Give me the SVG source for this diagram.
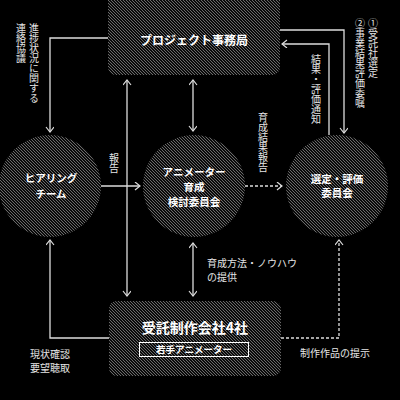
<svg xmlns="http://www.w3.org/2000/svg" width="400" height="400" viewBox="0 0 400 400">
<defs>
<pattern id="hatch" width="3" height="3" patternUnits="userSpaceOnUse">
<rect width="3" height="3" fill="#0a0a0a"/>
<rect x="0" y="0" width="1" height="1" fill="#6a6a6a"/>
<rect x="1" y="1" width="1" height="1" fill="#6a6a6a"/>
<rect x="2" y="2" width="1" height="1" fill="#6a6a6a"/>
</pattern>
<marker id="arr" markerUnits="userSpaceOnUse" markerWidth="10" markerHeight="10" refX="6" refY="4" orient="auto-start-reverse">
<path d="M1,0 L6,4 L1,8" fill="none" stroke="#ddd" stroke-width="1.2"/>
</marker>
<style>
.node{fill:url(#hatch);}
.t{font-family:"Noto Sans CJK JP","Noto Sans",sans-serif;fill:#fff;font-weight:bold;text-anchor:middle;}
.lab{font-family:"Noto Sans CJK JP","Noto Sans",sans-serif;fill:#e6e6e6;font-size:10px;}
.v{writing-mode:vertical-rl;text-orientation:upright;}
.c{fill:none;stroke:#ddd;stroke-width:1.3;}
.d{stroke-dasharray:3 2;}
</style>
</defs>
<rect width="400" height="400" fill="#000"/>
<g id="connectors">
<path class="c" d="M108,38 H50 V132" marker-end="url(#arr)"/>
<path class="c" d="M127,80 V296" marker-start="url(#arr)" marker-end="url(#arr)"/>
<path class="c" d="M101,186 H140" marker-end="url(#arr)"/>
<path class="c" d="M193,80 V131" marker-start="url(#arr)" marker-end="url(#arr)"/>
<path class="c" d="M193,243 V296" marker-start="url(#arr)" marker-end="url(#arr)"/>
<path class="c d" d="M245,186 H282" marker-end="url(#arr)"/>
<path class="c" d="M280,30 H344 V133" marker-end="url(#arr)"/>
<path class="c" d="M329,135 V44 H282" marker-end="url(#arr)"/>
<path class="c" d="M109,338 H50 V240" marker-end="url(#arr)"/>
<path class="c d" d="M281,338 H339 V240" marker-end="url(#arr)"/>
</g>
<g id="office">
<rect class="node" x="108" y="-10" width="172" height="85" rx="8"/>
<text class="t" x="194" y="45" font-size="12">プロジェクト事務局</text>
</g>
<g id="hearing">
<circle class="node" cx="50" cy="186" r="51"/>
<text class="t" x="51" y="182" font-size="10.5">ヒアリング</text>
<text class="t" x="51" y="198" font-size="10.5">チーム</text>
</g>
<g id="committee">
<circle class="node" cx="194" cy="186" r="51"/>
<text class="t" x="194" y="176" font-size="10.5">アニメーター</text>
<text class="t" x="194" y="191" font-size="10.5">育成</text>
<text class="t" x="194" y="206" font-size="10.5">検討委員会</text>
</g>
<g id="selection">
<circle class="node" cx="337" cy="186" r="51"/>
<text class="t" x="337" y="183" font-size="10.5">選定・評価</text>
<text class="t" x="337" y="197" font-size="10.5">委員会</text>
</g>
<g id="studios">
<rect class="node" x="109" y="301" width="172" height="75" rx="8"/>
<text class="t" x="195" y="333" font-size="14">受託制作会社4社</text>
<rect x="139.5" y="342.5" width="109" height="14" fill="none" stroke="#fff" stroke-width="1"/>
<text class="t" x="194" y="353" font-size="9.5">若手アニメーター</text>
</g>
<g id="labels">
<text class="lab v" x="34" y="23">進捗状況に関する</text>
<text class="lab v" x="21" y="23">連絡協議</text>
<text class="lab v" x="114" y="153">報告</text>
<text class="lab v" x="263" y="112">育成結果報告</text>
<text class="lab v" x="316" y="54">結果・評価通知</text>
<text class="lab v" x="373" y="18">①受託社選定</text>
<text class="lab v" x="360" y="18">②事業結果評価委嘱</text>
<text class="lab" x="207" y="267">育成方法・ノウハウ</text>
<text class="lab" x="207" y="281">の提供</text>
<text class="lab" x="30" y="358">現状確認</text>
<text class="lab" x="30" y="372">要望聴取</text>
<text class="lab" x="300" y="357">制作作品の提示</text>
</g>
</svg>
